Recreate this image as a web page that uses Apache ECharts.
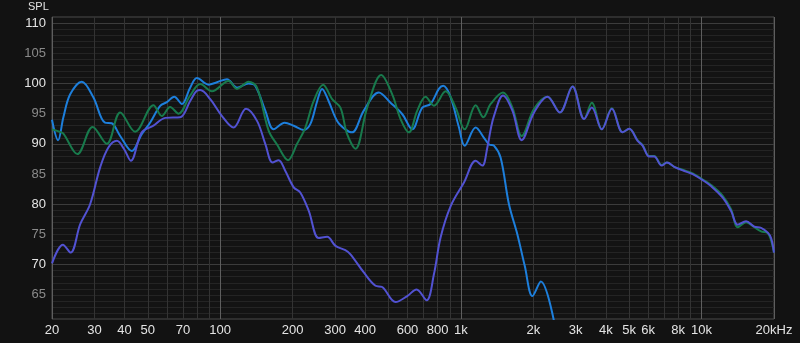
<!DOCTYPE html>
<html><head><meta charset="utf-8">
<script src="https://cdn.jsdelivr.net/npm/echarts@6/dist/echarts.min.js"></script>
<style>html,body{margin:0;padding:0;background:#121212;}#c{width:800px;height:343px;}</style>
</head><body><div id="c"></div>
<script>
// ---- data (frequency in Hz, SPL in dB) ----
const blueFreq = [20,21.2,22.3,23.8,26.6,29.7,33.2,35.4,38.4,42.9,47.2,51.1,56.3,60.0,64.4,69.3,75.0,80.0,89.4,96.9,106.7,117.4,131.2,139.9,153.9,166.7,185.2,202,222,237,253,265,282,306,331,353,395,456,510,571,628,691,748,810,845,907,982,1037,1152,1247,1310,1372,1463,1584,1717,1842,1983,2148,2480];
const blueSpl  = [94.0,90.6,94.4,98.2,100.3,97.7,93.5,93.4,91.3,88.8,91.6,93.5,96.3,96.9,97.8,96.6,99.3,100.9,99.8,100.2,100.7,99.3,100.0,99.6,95.5,92.4,93.5,93.0,92.3,93.3,97.1,99.1,97.1,93.8,92.4,91.9,95.5,98.5,96.8,94.9,92.4,96.0,96.6,99.1,99.6,97.7,92.7,89.7,92.7,91.0,89.9,89.7,87.7,80.0,75.0,69.8,64.8,67.2,59.1];

const greenFreq = [20,21.5,22.3,25.5,29.5,33.8,38.4,44.3,52.8,57.2,61.9,67.1,75.0,82.6,92.4,108.3,117.4,131.2,142.2,158.9,172.2,191.4,208.6,225.8,244.6,267.6,291.8,315.8,336.8,364.8,408,466.6,518.4,561.4,607.8,658.8,713.4,772.6,864,950.6,1037,1152,1240,1330,1496,1637,1789,2014,2290,2577,2910,3252,3500,3852,4240,4698,5006,5424,5689,6060,6358,6827,7182,7700,8347,9186,10106,10948,12244,13260,14140,15310,16572,17672,18846,19450,20000];
const greenSpl  = [92.4,92.0,91.7,88.3,92.8,90.0,95.2,92.0,96.4,94.6,96.1,95.0,98.0,99.9,98.7,100.4,99.1,100.3,99.3,92.2,89.9,87.3,90.0,92.7,97.1,99.8,97.4,96.0,91.6,89.2,96.0,101.4,98.2,94.1,91.9,95.5,97.8,96.3,98.7,96.0,92.4,96.4,94.4,96.6,98.5,96.0,91.3,95.8,97.8,95.2,99.5,94.1,96.8,92.4,95.9,91.9,92.5,90.6,89.8,88.0,88.0,86.5,86.9,86.2,85.7,85.1,84.1,83.2,81.4,79.2,76.2,77.0,76.2,75.5,75.2,74.0,72.0];

const purpleFreq = [20,22.2,23.9,26.2,28.8,31.7,34.3,37.2,39.9,42.5,47.2,52.8,59.1,68.2,75.0,80.0,82.6,90.9,101.7,113.6,128,142.2,153.9,165.1,174.9,186.5,202,215.4,233.3,256.6,278.2,301.3,331,347.8,395,441.8,471,535.2,598.6,654.4,720.2,772.6,823.4,907,1030,1152,1228,1288,1330,1372,1496,1637,1789,2014,2290,2577,2910,3252,3500,3852,4240,4698,5006,5424,5689,6060,6358,6827,7182,7700,8347,9186,10106,10948,12244,13260,14140,15310,16572,17672,18846,19450,20000];
const purpleSpl  = [70.2,73.3,72.0,76.7,80.0,86.1,89.4,90.5,89.1,87.2,91.9,93.0,94.3,94.4,97.1,98.8,98.9,97.4,94.6,92.7,95.8,93.8,90.0,86.9,87.3,85.5,82.8,81.9,78.9,74.4,74.6,73.1,72.4,71.7,68.7,66.5,66.3,63.8,64.8,65.9,64.1,68.4,74.5,79.7,83.6,87.2,86.4,89.4,92.4,94.6,98.0,95.5,90.6,95.2,97.8,95.2,99.5,94.1,96.0,92.4,95.8,91.9,92.5,90.5,89.7,87.9,87.9,86.4,86.9,86.2,85.6,85.0,84.0,83.0,81.1,78.9,76.6,77.2,76.3,76.1,75.3,74.4,72.0];

// ---- ticks ----
const xGridValues  = [20,30,40,50,60,70,80,90,100,200,300,400,500,600,700,800,900,1000,2000,3000,4000,5000,6000,7000,8000,9000,10000,20000];
const xMajorValues = [20,100,1000,10000,20000];
const xLabelValues = [20,30,40,50,70,100,200,300,400,600,800,1000,2000,3000,4000,5000,6000,8000,10000,20000];
const xLabelTexts  = ['20','30','40','50','70','100','200','300','400','600','800','1k','2k','3k','4k','5k','6k','8k','10k','20kHz'];
const yLabelValues = [65,70,75,80,85,90,95,100,105,110];
const yMajorValues = [70,80,90,100,110];
const yMin = 61, yMax = 111;

const FONT = 'Liberation Sans';
const mlData = [];
for (let v = 62; v <= 110; v++) {
  const major = yMajorValues.indexOf(v) >= 0;
  const lab = yLabelValues.indexOf(v) >= 0;
  mlData.push({
    yAxis: v,
    lineStyle: { color: major ? '#3c3c3c' : '#242424', width: 1, type: 'solid' },
    label: lab ? { show: true, position: 'start', formatter: String(v), distance: 6,
      color: major ? '#e4e4e4' : '#8a8a8a', fontSize: 13, fontFamily: FONT } : { show: false }
  });
}
xGridValues.forEach(v => {
  const li = xLabelValues.indexOf(v);
  const major = xMajorValues.indexOf(v) >= 0;
  mlData.push({
    xAxis: v,
    lineStyle: { color: major ? '#5e5e5e' : '#333333', width: 1, type: 'solid' },
    label: li >= 0 ? { show: true, position: 'start', formatter: xLabelTexts[li], distance: 5,
      color: '#e4e4e4', fontSize: 13, fontFamily: FONT } : { show: false }
  });
});

function pairs(f, s) { return f.map((x, i) => [x, s[i]]); }
function curve(name, f, s, color, z) {
  return { name, type: 'line', data: pairs(f, s), showSymbol: false, smooth: 0.35, z,
    lineStyle: { color, width: 2 }, itemStyle: { color }, clip: true, silent: true };
}

const chart = echarts.init(document.getElementById('c'), null, { renderer: 'canvas' });
chart.setOption({
  backgroundColor: '#121212',
  animation: false,
  grid: { left: 52, right: 26, top: 17, bottom: 24, show: true, borderColor: '#4a4a4a', borderWidth: 1, backgroundColor: '#131313' },
  xAxis: { type: 'log', logBase: 10, min: 20, max: 20000,
    axisLine: { show: false }, axisTick: { show: false }, axisLabel: { show: false }, splitLine: { show: false } },
  yAxis: { type: 'value', min: yMin, max: yMax,
    axisLine: { show: false }, axisTick: { show: false }, axisLabel: { show: false }, splitLine: { show: false } },
  graphic: [{ type: 'text', left: 28, top: 1, style: { text: 'SPL', fill: '#e4e4e4', font: '11px "Liberation Sans"' } }],
  series: [
    { type: 'line', data: [], z: 1, silent: true,
      markLine: { silent: true, z: 1, symbol: 'none', animation: false, precision: 6, data: mlData } },
    curve('A', blueFreq, blueSpl, '#1d7fdc', 10),
    curve('B', greenFreq, greenSpl, '#187a4c', 11),
    curve('C', purpleFreq, purpleSpl, '#5252d2', 12)
  ]
});
</script></body></html>
